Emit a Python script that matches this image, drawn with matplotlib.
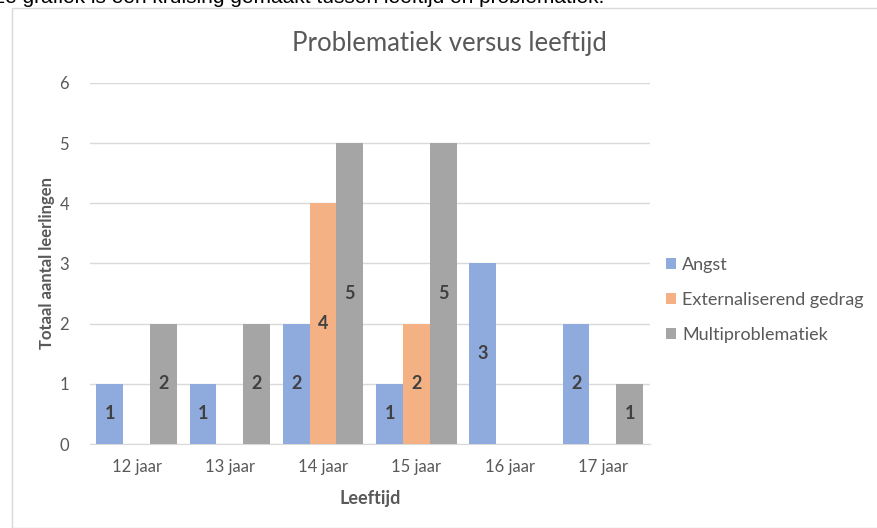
import matplotlib
matplotlib.use('Agg')
import matplotlib.pyplot as plt
import numpy as np
from matplotlib.patches import Rectangle

plt.rcParams['font.family'] = ['Lato', 'DejaVu Sans']

categories = ['12 jaar', '13 jaar', '14 jaar', '15 jaar', '16 jaar', '17 jaar']
angst = [1, 1, 2, 1, 3, 2]
externaliserend = [0, 0, 4, 2, 0, 0]
multi = [2, 2, 5, 5, 0, 1]
series_names = ['Angst', 'Externaliserend gedrag', 'Multiproblematiek']

BLUE = '#8FAADC'
ORANGE = '#F4B183'
GRAY = '#A5A5A5'
TXT = '#595959'
LABEL = '#404040'

fig = plt.figure(figsize=(8.77, 5.28), dpi=100)
ax = fig.add_axes([0.1026, 0.159, 0.638, 0.684])

# chart frame + clipped caption above it (cut off in the original too)
fig.patches.append(Rectangle((12 / 877, 0.0), 1.0, 1 - 8 / 528, transform=fig.transFigure,
                             fill=False, edgecolor='#D9D9D9', linewidth=1.0))
fig.text(-0.036, 1.004, 'Deze grafiek is een kruising gemaakt tussen leeftijd en problematiek.',
         ha='left', va='center', fontsize=15, color='black', family='Liberation Sans')

x = np.arange(len(categories))
w = 0.287
for vals, off, col, name in [(angst, -w, BLUE, series_names[0]),
                             (externaliserend, 0, ORANGE, series_names[1]),
                             (multi, w, GRAY, series_names[2])]:
    bars = ax.bar(x + off, vals, w, color=col, label=name, zorder=3)
    for b, v in zip(bars, vals):
        if v > 0:
            ax.text(b.get_x() + b.get_width() / 2, v / 2, str(v), ha='center', va='center',
                    fontsize=13, fontweight='bold', color=LABEL, zorder=4)

ax.set_xlim(-0.5, 5.5)
ax.set_ylim(0, 6)
ax.set_yticks(range(0, 7))
ax.set_xticks(x)
ax.set_xticklabels(categories)
ax.tick_params(axis='both', length=0, colors=TXT, labelsize=12)
ax.tick_params(axis='y', pad=15)
ax.tick_params(axis='x', pad=11)
ax.grid(axis='y', color='#D9D9D9', linewidth=1.0, zorder=0)
for s in ['top', 'right', 'left']:
    ax.spines[s].set_visible(False)
ax.spines['bottom'].set_color('#D9D9D9')

fig.text(449 / 877, 1 - 44 / 528, 'Problematiek versus leeftijd', ha='center', va='center',
         fontsize=18.5, color=TXT)
ax.set_xlabel('Leeftijd', fontsize=13, fontweight='bold', color=TXT)
ax.set_ylabel('Totaal aantal leerlingen', fontsize=12, fontweight='bold', color=TXT)
ax.xaxis.set_label_coords(0.5, -0.128)
ax.yaxis.set_label_coords(-0.062, 0.5)

leg = ax.legend(loc='center left', bbox_to_anchor=(1.0, 0.40), frameon=False,
                fontsize=13, handlelength=0.55, handleheight=0.55, handletextpad=0.35,
                labelspacing=1.05)
for t in leg.get_texts():
    t.set_color(TXT)

fig.savefig('out.png', dpi=100)
